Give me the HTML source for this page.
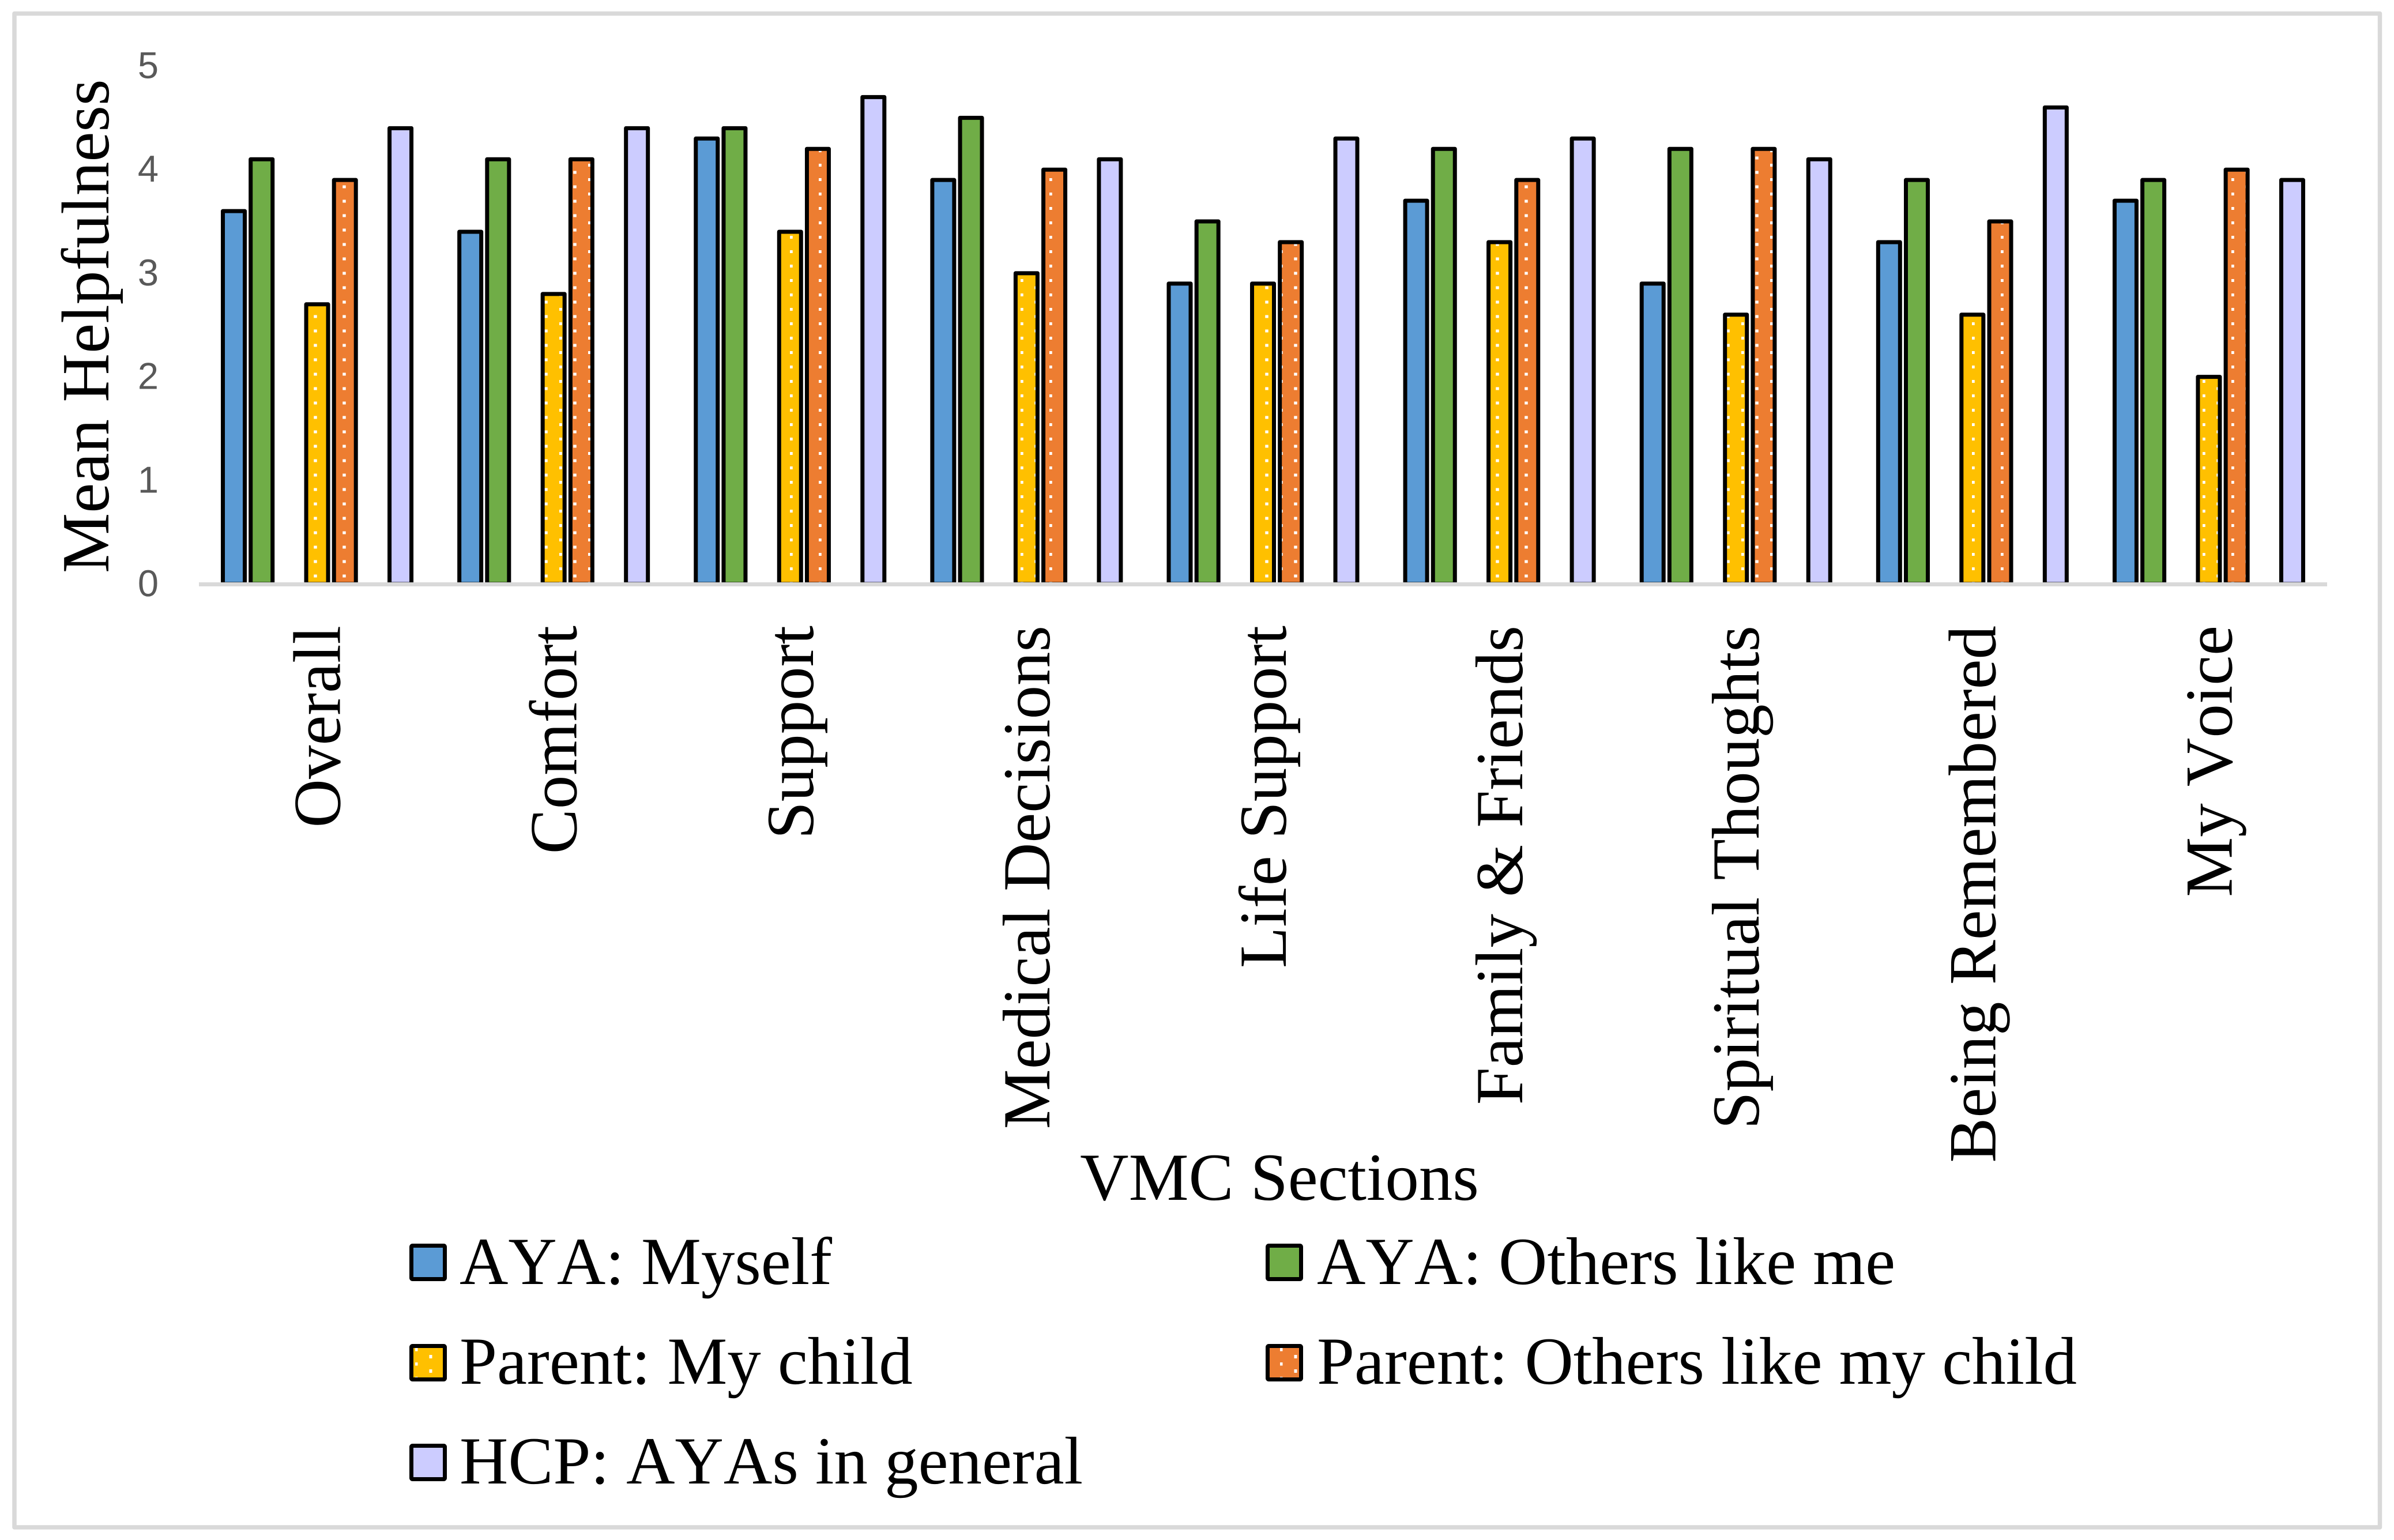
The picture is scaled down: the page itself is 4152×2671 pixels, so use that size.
<!DOCTYPE html>
<html lang="en">
<head>
<meta charset="utf-8">
<title>Mean Helpfulness by VMC Section</title>
<style>
html,body{margin:0;padding:0;background:#fff;}
svg{display:block;}
text{font-family:"Liberation Serif","Times New Roman",serif;fill:#000;font-kerning:none;text-rendering:geometricPrecision;}
.tick{font-family:"Liberation Sans",Arial,sans-serif;font-size:65px;fill:#595959;text-anchor:middle;}
.big{font-size:116.9px;}
.ytitle{font-size:117.3px;}
</style>
</head>
<body>
<svg id="chart" xmlns="http://www.w3.org/2000/svg" width="4152" height="2671" viewBox="0 0 4152 2671">
  <defs>
    <pattern id="dotsYellow" patternUnits="userSpaceOnUse" x="20" y="9" width="50" height="25">
      <rect width="50" height="25" fill="#FFC000"/>
      <rect x="-0.75" y="0" width="5.5" height="5" fill="#fff"/>
      <rect x="24.25" y="12.5" width="5.5" height="5" fill="#fff"/>
    </pattern>
    <pattern id="dotsOrange" patternUnits="userSpaceOnUse" x="20" y="9" width="50" height="25">
      <rect width="50" height="25" fill="#ED7D31"/>
      <rect x="-0.75" y="0" width="5.5" height="5" fill="#fff"/>
      <rect x="24.25" y="12.5" width="5.5" height="5" fill="#fff"/>
    </pattern>
    <pattern id="legendYellow" patternUnits="userSpaceOnUse" x="20" y="13" width="50" height="25">
      <rect width="50" height="25" fill="#FFC000"/>
      <rect x="-0.5" y="-0.5" width="5" height="6" fill="#fff"/>
      <rect x="24.5" y="12" width="5" height="6" fill="#fff"/>
    </pattern>
    <pattern id="legendOrange" patternUnits="userSpaceOnUse" x="20" y="13" width="50" height="25">
      <rect width="50" height="25" fill="#ED7D31"/>
      <rect x="-0.5" y="-0.5" width="5" height="6" fill="#fff"/>
      <rect x="24.5" y="12" width="5" height="6" fill="#fff"/>
    </pattern>
  </defs>

  <rect x="25" y="23.5" width="4102.5" height="2625.5" fill="#fff" stroke="#D9D9D9" stroke-width="7.5" stroke-linejoin="round"/>

  <g id="bars"></g>
  <line x1="345" y1="1013.5" x2="4036" y2="1013.5" stroke="#D9D9D9" stroke-width="7"/>
  <g id="yticks"></g>
  <g id="xlabels"></g>

  <text class="ytitle" transform="translate(188,994) rotate(-90)">Mean Helpfulness</text>
  <text class="big" x="2219" y="2081" text-anchor="middle">VMC Sections</text>

  <g>
    <g>
      <rect x="713.5" y="2160.5" width="58" height="58" rx="2" fill="#5B9BD5" stroke="#000" stroke-width="7" stroke-linejoin="round"/>
      <text class="big" x="797" y="2227">AYA: Myself</text>
    </g>
    <g>
      <rect x="2198.5" y="2160.5" width="58" height="58" rx="2" fill="#70AD47" stroke="#000" stroke-width="7" stroke-linejoin="round"/>
      <text class="big" x="2284" y="2227">AYA: Others like me</text>
    </g>
    <g>
      <rect x="713.5" y="2334.5" width="58" height="58" rx="2" fill="url(#legendYellow)" stroke="#000" stroke-width="7" stroke-linejoin="round"/>
      <text class="big" x="797" y="2400">Parent: My child</text>
    </g>
    <g>
      <rect x="2198.5" y="2334.5" width="58" height="58" rx="2" fill="url(#legendOrange)" stroke="#000" stroke-width="7" stroke-linejoin="round"/>
      <text class="big" x="2284" y="2400">Parent: Others like my child</text>
    </g>
    <g>
      <rect x="713.5" y="2507.5" width="58" height="58" rx="2" fill="#CCCCFF" stroke="#000" stroke-width="7" stroke-linejoin="round"/>
      <text class="big" x="797" y="2573">HCP: AYAs in general</text>
    </g>
  </g>
</svg>

<script>
const categories = ["Overall","Comfort","Support","Medical Decisions","Life Support","Family & Friends","Spiritual Thoughts","Being Remembered","My Voice"];
const ayaMyself = [3.6,3.4,4.3,3.9,2.9,3.7,2.9,3.3,3.7];
const ayaOthers = [4.1,4.1,4.4,4.5,3.5,4.2,4.2,3.9,3.9];
const parentChild = [2.7,2.8,3.4,3.0,2.9,3.3,2.6,2.6,2.0];
const parentOthers = [3.9,4.1,4.2,4.0,3.3,3.9,4.2,3.5,4.0];
const hcpGeneral = [4.4,4.4,4.7,4.1,4.3,4.3,4.1,4.6,3.9];
const yTickLabels = [0,1,2,3,4,5];

const SVGNS = "http://www.w3.org/2000/svg";
const plotLeft = 345, plotRight = 4036, baseY = 1013, unitY = 179.7;
const slotStep = 48.17, barWidth = 38;

function yScale(v){ return baseY - v * unitY; }
function xCenter(i){ return plotLeft + (plotRight - plotLeft) / categories.length * (i + 0.5); }

const seriesList = [
  { key:"aya-myself",    values:ayaMyself,    slot:0, fill:"#5B9BD5" },
  { key:"aya-others",    values:ayaOthers,    slot:1, fill:"#70AD47" },
  { key:"parent-child",  values:parentChild,  slot:3, fill:"url(#dotsYellow)" },
  { key:"parent-others", values:parentOthers, slot:4, fill:"url(#dotsOrange)" },
  { key:"hcp-general",   values:hcpGeneral,   slot:6, fill:"#CCCCFF" }
];

const barsGroup = document.getElementById("bars");
seriesList.forEach(function(s){
  s.values.forEach(function(v, i){
    const r = document.createElementNS(SVGNS, "rect");
    const top = yScale(v);
    r.setAttribute("x", xCenter(i) + (s.slot - 3) * slotStep - barWidth / 2);
    r.setAttribute("y", top);
    r.setAttribute("width", barWidth);
    r.setAttribute("height", baseY - top);
    r.setAttribute("fill", s.fill);
    r.setAttribute("stroke", "#000");
    r.setAttribute("stroke-width", "7");
    r.setAttribute("stroke-linejoin", "round");
    
    
    barsGroup.appendChild(r);
  });
});

const yTicksGroup = document.getElementById("yticks");
yTickLabels.forEach(function(t){
  const el = document.createElementNS(SVGNS, "text");
  el.setAttribute("class", "tick");
  el.setAttribute("x", 257);
  el.setAttribute("y", yScale(t) + 21);
  el.textContent = t;
  
  
  yTicksGroup.appendChild(el);
});

const xLabelsGroup = document.getElementById("xlabels");
categories.forEach(function(c, i){
  const el = document.createElementNS(SVGNS, "text");
  el.setAttribute("class", "big");
  el.setAttribute("text-anchor", "end");
  el.setAttribute("transform", "translate(" + (xCenter(i) + 39.5) + ",1085) rotate(-90)");
  el.textContent = c;
  
  
  xLabelsGroup.appendChild(el);
});
</script>
</body>
</html>
